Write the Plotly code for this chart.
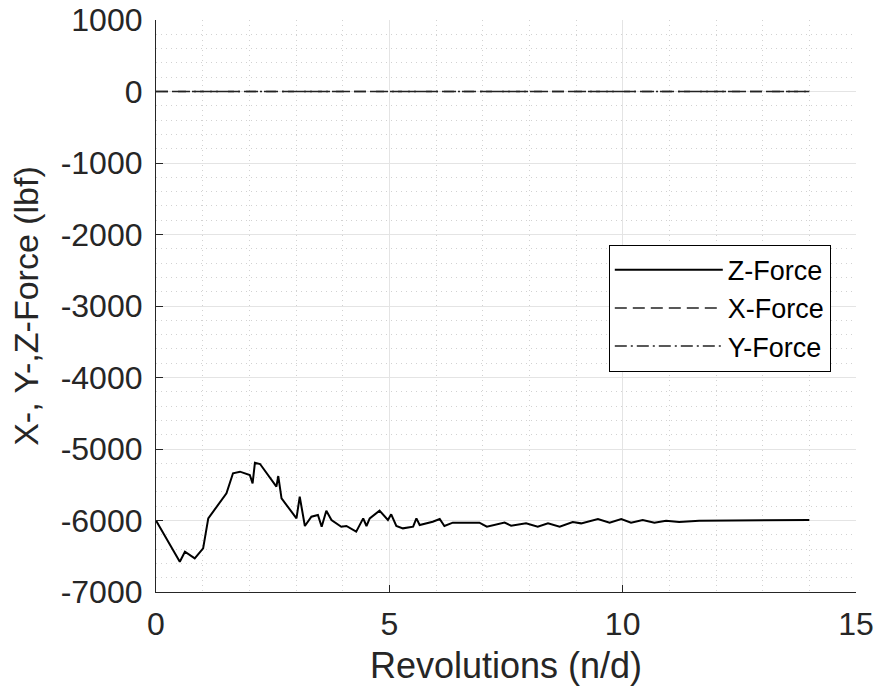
import plotly.graph_objects as go

# Z-force trace
rev_z = [0.0, 0.51, 0.62, 0.83, 1.01, 1.12, 1.51, 1.65, 1.80, 2.01, 2.07, 2.12,
         2.23, 2.58, 2.62, 2.69, 3.01, 3.08, 3.19, 3.33, 3.47, 3.55, 3.65, 3.76,
         3.97, 4.08, 4.29, 4.44, 4.51, 4.58, 4.79, 4.97, 5.04, 5.15, 5.29, 5.51,
         5.58, 5.65, 5.93, 6.08, 6.18, 6.36, 6.93, 7.09, 7.47, 7.61, 7.93, 8.18,
         8.40, 8.65, 8.93, 9.11, 9.47, 9.72, 9.97, 10.18, 10.43, 10.68, 10.93,
         11.21, 11.64, 12.35, 14.0]
z_force = [-6000, -6576, -6436, -6529, -6389, -5970, -5620, -5340, -5317, -5364,
           -5480, -5191, -5210, -5527, -5378, -5690, -5970, -5667, -6077, -5947,
           -5923, -6087, -5863, -5993, -6087, -6077, -6157, -5970, -6077, -5970,
           -5863, -5993, -5913, -6077, -6110, -6087, -5970, -6063, -6017, -5979,
           -6077, -6030, -6030, -6087, -6030, -6073, -6040, -6087, -6040, -6087,
           -6021, -6040, -5979, -6030, -5979, -6030, -5993, -6030, -6002, -6021,
           -6002, -6002, -5993]

rev_xy = [0.0, 14.0]
x_force = [0, 0]
y_force = [0, 0]

x_ticks = [0, 5, 10, 15]
y_ticks = [1000, 0, -1000, -2000, -3000, -4000, -5000, -6000, -7000]
y_tick_labels = [str(v) for v in y_ticks]  # plain hyphen minus like the original

text_color = '#262626'
font_family = 'Liberation Sans, Arial'

fig = go.Figure()

fig.add_trace(go.Scatter(
    x=rev_z, y=z_force, mode='lines', name='Z-Force',
    line=dict(color='black', width=2)
))
fig.add_trace(go.Scatter(
    x=rev_xy, y=x_force, mode='lines', name='X-Force',
    line=dict(color='#222222', width=1.6, dash='12px,6px')
))
fig.add_trace(go.Scatter(
    x=rev_xy, y=y_force, mode='lines', name='Y-Force',
    line=dict(color='#222222', width=1.6, dash='12px,4px,2px,4px')
))

axis_common = dict(
    showline=True, linecolor=text_color, linewidth=1.2, mirror=False,
    ticks='inside', ticklen=7, tickcolor=text_color,
    showgrid=True, gridcolor='#e4e4e4', gridwidth=1,
    zeroline=False, automargin=False, ticklabeloverflow='allow',
    tickfont=dict(family=font_family, size=32, color=text_color),
)

fig.update_xaxes(
    range=[0, 15], tickvals=x_ticks, ticklabelstandoff=3,
    title=dict(text='Revolutions (n/d)', standoff=12,
               font=dict(family=font_family, size=36, color=text_color)),
    minor=dict(dtick=1, tick0=0, showgrid=True, gridcolor='#d2d2d2',
               griddash='1px,4px', ticks=''),
    **axis_common
)
fig.update_yaxes(
    range=[-7000, 1000], tickvals=y_ticks, ticktext=y_tick_labels,
    ticklabelstandoff=6,
    title=dict(text='X-, Y-,Z-Force (lbf)', standoff=11,
               font=dict(family=font_family, size=34, color=text_color)),
    minor=dict(dtick=200, tick0=0, showgrid=True, gridcolor='#d2d2d2',
               griddash='1px,4px', ticks=''),
    **axis_common
)

fig.update_layout(
    width=879, height=694,
    margin=dict(l=156, r=23, t=20, b=102),
    paper_bgcolor='white', plot_bgcolor='white',
    showlegend=True,
    legend=dict(
        x=0.964, y=0.607, xanchor='right', yanchor='top',
        bgcolor='white', bordercolor='black', borderwidth=1,
        font=dict(family=font_family, size=27, color='black'),
        tracegroupgap=0, itemwidth=108
    )
)

# drop the default 8px page margin so the figure fills the window
fig.write_html("out.html", config={'displayModeBar': False},
               post_script="document.body.style.margin = '0';")
